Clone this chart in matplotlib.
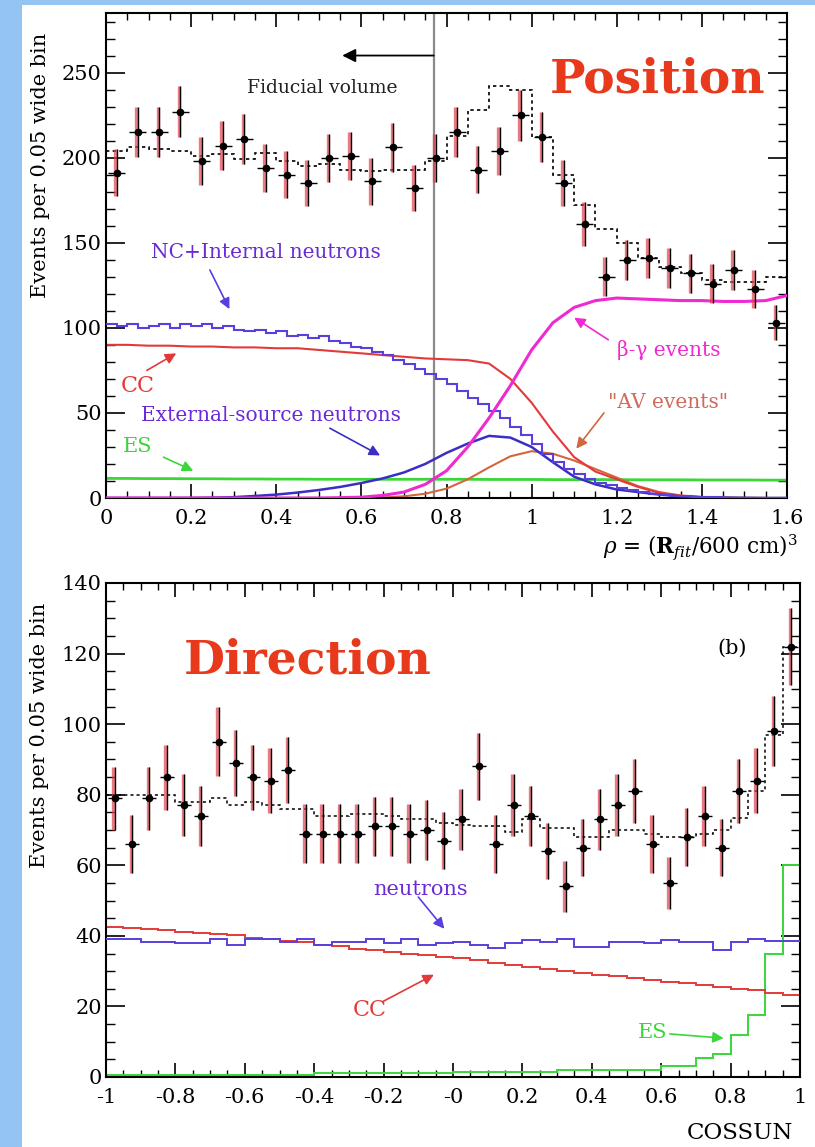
import numpy as np
import matplotlib
matplotlib.use("Agg")
import matplotlib.pyplot as plt
from matplotlib.patches import Rectangle

plt.rcParams["font.family"] = ["DejaVu Serif"]
plt.rcParams["mathtext.fontset"] = "dejavuserif"

# ---------------- Position panel (rho = (R_fit/600 cm)^3) ----------------
rho_counts = [191, 215, 215, 227, 198, 207, 211, 194, 190, 185, 200, 201, 186, 206, 182, 200,
              215, 193, 204, 225, 212, 185, 161, 130, 140, 141, 135, 132, 126, 134, 123, 103]
rho_fit_total = [204, 206, 205, 204, 201, 202, 199, 203, 198, 195, 196, 193, 192, 193, 193, 198,
                 213, 228, 242, 240, 212, 190, 172, 158, 150, 141, 136, 132, 128, 127, 127, 130]
# NC + internal neutrons, fine 0.025 binning
rho_nc_internal = [102, 101, 102, 100, 101, 102, 100, 102, 101, 102, 100, 101, 99, 98, 99, 97,
                   98, 95, 96, 94, 95, 92, 91, 89, 88, 86, 84, 81, 79, 76, 73, 70,
                   67, 63, 59, 55, 51, 47, 42, 37, 32, 26, 21, 17, 14, 11, 9, 7.5,
                   6, 4.5, 3.5, 2.5, 1.8, 1.3, 0.9, 0.6, 0.4, 0.3, 0.2, 0.1, 0.1, 0.05, 0.05, 0.0]
# smooth components sampled every 0.05 from 0 to 1.6
rho_cc = [90, 90, 89.5, 89.5, 89, 89, 88.5, 88.5, 88, 88, 87, 86, 85, 84, 83, 82, 81.5,
          81, 79, 70, 56, 39, 24, 15.5, 11, 6.5, 3, 1.3, 0.5, 0.2, 0.1, 0, 0]
rho_ext_neutrons = [0, 0, 0, 0, 0, 0.2, 0.5, 1.2, 2.0, 3.2, 4.7, 6.5, 8.8, 11.5, 15, 20, 26.5,
                    32, 36.5, 35.5, 30, 21, 12.5, 8, 5, 3.5, 2, 1, 0.5, 0.2, 0.1, 0, 0]
rho_beta_gamma = [0, 0, 0, 0, 0, 0, 0, 0, 0, 0, 0, 0.2, 0.5, 1.5, 3.5, 8, 16,
                  30, 47, 66, 87, 103, 112, 116, 117.5, 117, 116.5, 116, 116, 115.5, 115.5, 116, 119]
rho_av = [0, 0, 0, 0, 0, 0, 0, 0, 0, 0, 0, 0, 0, 0.3, 1, 2.5, 5.5,
          11, 18, 24.5, 27.5, 26, 22, 17, 12, 7, 3.5, 1.5, 0.5, 0.2, 0, 0, 0]
rho_es = [11.5, 11.5, 11.4, 11.4, 11.3, 11.3, 11.2, 11.2, 11.1, 11.1, 11.0, 11.0, 11.0, 11.0, 11.0, 11.0, 11.0,
          11.0, 10.9, 10.9, 10.9, 10.8, 10.8, 10.8, 10.8, 10.7, 10.7, 10.7, 10.6, 10.6, 10.6, 10.5, 10.5]
rho_xticks = [0, 0.2, 0.4, 0.6, 0.8, 1.0, 1.2, 1.4, 1.6]
rho_xticklabels = ["0", "0.2", "0.4", "0.6", "0.8", "1", "1.2", "1.4", "1.6"]
rho_yticks = [0, 50, 100, 150, 200, 250]
fiducial_cut = 0.77

# ---------------- Direction panel (cos theta_sun) ----------------
cos_counts = [79, 66, 79, 85, 77, 74, 95, 89, 85, 84, 87, 69, 69, 69, 69, 71, 71, 69, 70, 67,
              73, 88, 66, 77, 74, 64, 54, 65, 73, 77, 81, 66, 55, 68, 74, 65, 81, 84, 98, 122]
cos_fit_total = [80, 80, 80, 80, 78, 78, 79, 77, 78, 77, 76, 76, 74, 74, 74.5, 74.5, 74, 73, 73, 72,
                 71.5, 71, 71, 69.5, 73, 70.5, 70.5, 68, 68, 70, 70, 69, 68, 68, 69, 70, 73.5, 81, 97, 122]
cos_neutrons = [39.0, 39.0, 38.3, 38.3, 38.0, 38.0, 39.0, 37.4, 39.1, 39.1, 38.3, 39.0, 37.5, 38.3,
                38.3, 39.0, 38.0, 39.0, 37.5, 38.0, 38.3, 37.4, 36.5, 38.0, 38.8, 38.3, 39.2, 36.9,
                36.9, 38.3, 38.3, 38.0, 38.7, 38.3, 38.3, 36.0, 38.3, 39.2, 38.5, 38.5]
cos_cc = [42.5, 42.2, 42.0, 41.6, 41.2, 40.8, 40.5, 40.3, 39.5, 39.0, 38.6, 38.2, 37.5, 37.0,
          36.4, 36.0, 35.5, 35.0, 34.5, 34.0, 33.6, 33.2, 32.3, 31.8, 31.3, 30.5, 30.0, 29.5,
          28.9, 28.5, 28.0, 27.5, 26.8, 26.5, 26.2, 25.6, 25.0, 24.6, 23.8, 23.2]
cos_es = [0.5, 0.5, 0.5, 0.5, 0.5, 0.5, 0.5, 0.5, 0.5, 0.5, 0.5, 0.5, 1, 1, 1, 1, 1, 1, 1, 1,
          1.5, 1.5, 1.5, 1.5, 1.5, 1.5, 2, 2, 2, 2, 2, 2, 3, 3, 5.5, 6.5, 12, 17.5, 35, 60]
cos_xticks = [-1, -0.8, -0.6, -0.4, -0.2, 0, 0.2, 0.4, 0.6, 0.8, 1]
cos_xticklabels = ["-1", "-0.8", "-0.6", "-0.4", "-0.2", "-0", "0.2", "0.4", "0.6", "0.8", "1"]
cos_yticks = [0, 20, 40, 60, 80, 100, 120, 140]

# ---------------- colours ----------------
C_DATA_ERR = "#e0404f"
C_NC = "#5b3fdc"
C_EXT = "#3a2ec4"
C_CC = "#e23a3a"
C_ES = "#3ad63a"
C_BG = "#ee2ad0"
C_AV = "#d2663e"
C_TXT_N = "#6a2bd6"
C_TITLE = "#e8391d"

W, H = 815, 1147
fig = plt.figure(figsize=(W / 100, H / 100), dpi=100)
fig.patch.set_facecolor("#93c4f2")
fig.patches.append(Rectangle((22 / W, 0), 1 - 22 / W, 1 - 5 / H, transform=fig.transFigure,
                             facecolor="white", edgecolor="none", zorder=-10))

ax1 = fig.add_axes([106 / W, 1 - 498 / H, 681 / W, 485 / H])
ax2 = fig.add_axes([106 / W, 1 - 1077 / H, 694 / W, 494 / H])


def style_axes(ax, xminor, yminor):
    for s in ax.spines.values():
        s.set_linewidth(1.5)
    ax.tick_params(which="both", direction="in", top=True, right=True)
    ax.tick_params(axis="y", which="major", length=14, width=1.2, labelsize=15, pad=3)
    ax.tick_params(axis="y", which="minor", length=6.5, width=1.0)
    ax.tick_params(axis="x", which="major", length=10, width=1.2, labelsize=15, pad=8)
    ax.tick_params(axis="x", which="minor", length=5, width=1.0)
    ax.xaxis.set_minor_locator(matplotlib.ticker.MultipleLocator(xminor))
    ax.yaxis.set_minor_locator(matplotlib.ticker.MultipleLocator(yminor))


def draw_points(ax, centers, counts, halfwidth):
    counts = np.asarray(counts, dtype=float)
    err = np.sqrt(counts)
    ax.errorbar(centers - 0.004, counts, yerr=err, fmt="none", ecolor=C_DATA_ERR,
                elinewidth=2.4, alpha=0.7, capsize=0, zorder=5)
    ax.errorbar(centers, counts, yerr=err, xerr=halfwidth, fmt="o", color="black",
                ms=4.5, elinewidth=1.0, capsize=0, zorder=6)


def arrow(ax, start, tip, color, lw=1.2, scale=16):
    ax.annotate("", xy=tip, xytext=start,
                arrowprops=dict(arrowstyle="-|>", color=color, lw=lw,
                                mutation_scale=scale, shrinkA=0, shrinkB=0))


# ---------------- Position panel ----------------
edges_rho = np.linspace(0, 1.6, len(rho_counts) + 1)
centers_rho = 0.5 * (edges_rho[:-1] + edges_rho[1:])
edges_rho_fine = np.linspace(0, 1.6, len(rho_nc_internal) + 1)
grid_rho = np.linspace(0, 1.6, len(rho_cc))

ax1.plot(grid_rho, rho_es, color=C_ES, lw=2.0, zorder=2)
ax1.plot(grid_rho, rho_av, color=C_AV, lw=1.5, zorder=2)
ax1.plot(grid_rho, rho_cc, color=C_CC, lw=1.5, zorder=2)
ax1.plot(grid_rho, rho_ext_neutrons, color=C_EXT, lw=1.8, zorder=3)
ax1.stairs(rho_nc_internal, edges_rho_fine, baseline=None, color=C_NC, lw=1.5, zorder=3)
ax1.plot(grid_rho, rho_beta_gamma, color=C_BG, lw=2.2, zorder=3)
ax1.stairs(rho_fit_total, edges_rho, baseline=None, color="black", lw=1.2,
           linestyle=(0, (2, 2)), zorder=4)
draw_points(ax1, centers_rho, rho_counts, 0.02)

ax1.axvline(fiducial_cut, color="#8a8a8a", lw=1.6, zorder=1)
arrow(ax1, (fiducial_cut, 260), (0.555, 260), "black", lw=1.3, scale=20)
ax1.text(0.507, 241, "Fiducial volume", fontsize=13.5, color="#222222", ha="center", va="center")
ax1.text(1.295, 246, "Position", fontsize=34, fontweight="bold", color=C_TITLE,
         ha="center", va="center")

ax1.text(0.375, 144, "NC+Internal neutrons", fontsize=14.5, color=C_TXT_N, ha="center", va="center")
arrow(ax1, (0.244, 134), (0.29, 111), C_NC)
ax1.text(0.075, 66, "CC", fontsize=16, color=C_CC, ha="center", va="center")
arrow(ax1, (0.096, 75), (0.165, 85), C_CC)
ax1.text(0.388, 48.7, "External-source neutrons", fontsize=14.5, color=C_TXT_N,
         ha="center", va="center")
arrow(ax1, (0.526, 41), (0.644, 25), C_EXT)
ax1.text(0.075, 30, "ES", fontsize=15, color=C_ES, ha="center", va="center")
arrow(ax1, (0.135, 24), (0.205, 16), C_ES)
ax1.text(1.323, 87, "β-γ events", fontsize=14.5, color=C_BG, ha="center", va="center")
arrow(ax1, (1.18, 93), (1.1, 106), C_BG)
ax1.text(1.32, 56, '"AV events"', fontsize=14.5, color="#d06a5a", ha="center", va="center")
arrow(ax1, (1.17, 50), (1.105, 29), C_AV)

ax1.set_xlim(0, 1.6)
ax1.set_ylim(0, 285)
ax1.set_xticks(rho_xticks)
ax1.set_xticklabels(rho_xticklabels)
ax1.set_yticks(rho_yticks)
style_axes(ax1, 0.05, 10)
ax1.text(-0.0965, 0.96, "Events per 0.05 wide bin", transform=ax1.transAxes, rotation=90,
         fontsize=15, ha="center", va="top")
ax1.text(1.015, -0.101, r"$\rho$ = ($\mathbf{R}_{fit}$/600 cm)$^{3}$", transform=ax1.transAxes,
         fontsize=15.5, ha="right", va="center")

# ---------------- Direction panel ----------------
edges_cos = np.linspace(-1, 1, len(cos_counts) + 1)
centers_cos = 0.5 * (edges_cos[:-1] + edges_cos[1:])

ax2.stairs(cos_es, edges_cos, baseline=None, color=C_ES, lw=1.4, zorder=2)
ax2.stairs(cos_cc, edges_cos, baseline=None, color=C_CC, lw=1.4, zorder=2)
ax2.stairs(cos_neutrons, edges_cos, baseline=None, color=C_NC, lw=1.4, zorder=3)
ax2.stairs(cos_fit_total, edges_cos, baseline=None, color="black", lw=1.1,
           linestyle=(0, (2, 2)), zorder=4)
draw_points(ax2, centers_cos, cos_counts, 0.02)

ax2.text(-0.42, 118, "Direction", fontsize=34, fontweight="bold", color=C_TITLE,
         ha="center", va="center")
ax2.text(0.804, 121.5, "(b)", fontsize=15, color="black", ha="center", va="center")
ax2.text(-0.095, 53, "neutrons", fontsize=15, color=C_TXT_N, ha="center", va="center")
arrow(ax2, (-0.1, 51), (-0.025, 42), C_NC)
ax2.text(-0.24, 19, "CC", fontsize=16, color=C_CC, ha="center", va="center")
arrow(ax2, (-0.2, 21.5), (-0.055, 29), C_CC)
ax2.text(0.574, 12.5, "ES", fontsize=15, color=C_ES, ha="center", va="center")
arrow(ax2, (0.625, 12.2), (0.78, 11), C_ES)

ax2.set_xlim(-1, 1)
ax2.set_ylim(0, 140)
ax2.set_xticks(cos_xticks)
ax2.set_xticklabels(cos_xticklabels)
ax2.set_yticks(cos_yticks)
style_axes(ax2, 0.05, 5)
ax2.text(-0.0955, 0.96, "Events per 0.05 wide bin", transform=ax2.transAxes, rotation=90,
         fontsize=15, ha="center", va="top")
ax2.text(0.99, -0.113, "COSSUN", transform=ax2.transAxes, fontsize=16.5, ha="right", va="center")

fig.savefig("out.png", dpi=100, facecolor=fig.get_facecolor())
